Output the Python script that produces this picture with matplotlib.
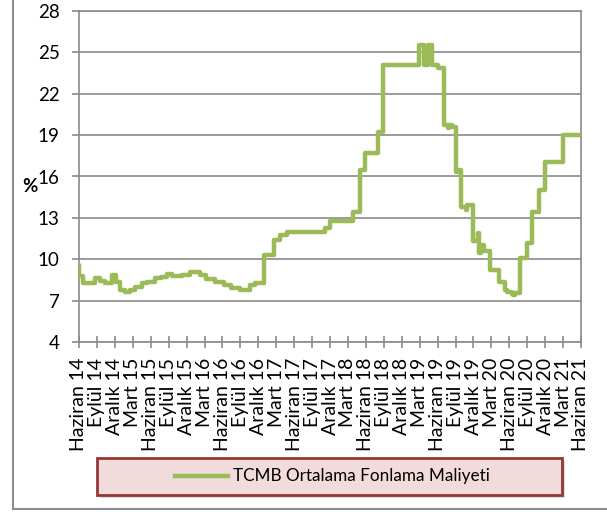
import matplotlib
matplotlib.use("Agg")
import matplotlib.pyplot as plt
from matplotlib.patches import Rectangle
from matplotlib.lines import Line2D

plt.rcParams['font.family'] = ['Lato', 'DejaVu Sans']

# ---- data (step changes, value holds until next date) ----
dates = [
    "2014-06-01", "2014-06-03", "2014-06-23", "2014-08-21", "2014-09-16", "2014-10-11",
    "2014-11-15", "2014-12-05", "2014-12-27", "2015-01-22", "2015-02-17", "2015-03-12",
    "2015-04-15", "2015-05-10", "2015-06-22", "2015-07-25", "2015-08-21", "2015-09-16",
    "2015-11-07", "2015-12-19", "2016-02-07", "2016-03-10", "2016-04-25", "2016-06-07",
    "2016-07-16", "2016-08-28", "2016-10-19", "2016-11-13", "2017-01-01", "2017-02-22",
    "2017-03-19", "2017-04-23", "2017-10-10", "2017-11-07", "2017-12-01", "2018-03-28",
    "2018-05-01", "2018-05-28", "2018-08-04", "2018-08-28", "2019-02-28", "2019-03-22",
    "2019-04-13", "2019-05-04", "2019-06-01", "2019-07-01", "2019-07-25", "2019-07-29",
    "2019-08-13", "2019-09-04", "2019-09-18", "2019-10-01", "2019-10-24", "2019-10-30",
    "2019-12-01", "2019-12-22", "2019-12-28", "2020-01-07", "2020-01-25", "2020-02-25",
    "2020-04-10", "2020-05-10", "2020-05-19", "2020-06-13", "2020-06-22", "2020-06-28",
    "2020-07-25", "2020-08-28", "2020-09-27", "2020-10-30", "2020-12-01", "2021-03-01",
    "2021-06-01",
]
values = [
    9.6, 8.78, 8.25, 8.62, 8.4, 8.25,
    8.86, 8.35, 7.77, 7.65, 7.77, 8.0,
    8.25, 8.35, 8.62, 8.7, 8.93, 8.78,
    8.86, 9.1, 8.86, 8.55, 8.35, 8.13,
    7.9, 7.77, 8.13, 8.3, 10.3, 11.4,
    11.76, 12.0, 11.95, 12.25, 12.75, 13.45,
    16.47, 17.73, 19.25, 24.05, 25.5, 24.05,
    25.5, 24.05, 23.9, 19.7, 19.5, 19.7,
    19.6, 16.35, 16.45, 13.8, 13.55, 13.9,
    11.3, 11.9, 10.45, 11.0, 10.6, 9.22,
    8.37, 7.77, 7.65, 7.5, 7.4, 7.55,
    10.06, 11.15, 13.4, 15.0, 17.05, 19.0,
    19.0,
]
series_name = "TCMB Ortalama Fonlama Maliyeti"
tick_labels = []
for yy in range(14, 22):
    for mname in ["Haziran", "Eylül", "Aralık", "Mart"]:
        tick_labels.append(f"{mname} {yy if mname != 'Mart' else yy + 1}")
tick_labels = tick_labels[:29]
y_ticks = list(range(4, 29, 3))
y_label = "%"


def month_offset(s):
    y, m, d = (int(p) for p in s.split("-"))
    return (y - 2014) * 12 + (m - 6) + (d - 1) / 30.0


xs = [month_offset(s) for s in dates]

W, H = 607, 512
fig = plt.figure(figsize=(W / 100, H / 100), dpi=100)


def fx(px):
    return px / W


def fy(py):
    return 1 - py / H


ax = fig.add_axes([fx(79), fy(342), fx(581) - fx(79), fy(11) - fy(342)])
grid_c = "#8a8a8a"
line_c = "#9BBB59"

ax.plot(xs, values, drawstyle="steps-post", color=line_c, lw=3.2,
        solid_joinstyle="round", solid_capstyle="round", zorder=3)

ax.set_xlim(0, 84)
ax.set_ylim(4, 28)
ax.set_yticks(y_ticks)
ax.set_yticklabels([str(v) for v in y_ticks], fontsize=13.5)
ax.set_xticks(list(range(0, 85, 3)))
ax.set_xticklabels(tick_labels, rotation=90, fontsize=14)
ax.yaxis.grid(True, color=grid_c, lw=1.2)
ax.set_axisbelow(True)
for sp in ax.spines.values():
    sp.set_color(grid_c)
    sp.set_linewidth(1.2)
ax.tick_params(axis="x", direction="inout", length=9, width=1.2, color=grid_c, pad=7)
ax.tick_params(axis="y", direction="out", length=5, width=1.2, color=grid_c, pad=9)

fig.text(fx(30), fy(186), y_label, fontsize=13.5, fontweight="bold", ha="center", va="center")

# outer chart frame
fig.add_artist(Line2D([fx(13), fx(13)], [fy(-5), fy(509)], color="#8c8c8c", lw=1.5))
fig.add_artist(Line2D([fx(13), 1.01], [fy(509), fy(509)], color="#8c8c8c", lw=1.5))

# legend box
lx0, ly0, lx1, ly1 = 97, 458, 562, 495
fig.add_artist(Rectangle((fx(lx0 + 3), fy(ly1 + 3)), fx(lx1) - fx(lx0), fy(ly0) - fy(ly1),
                         facecolor="#bbbbbb", edgecolor="none", alpha=0.5, zorder=1))
fig.add_artist(Rectangle((fx(lx0), fy(ly1)), fx(lx1) - fx(lx0), fy(ly0) - fy(ly1),
                         facecolor="#F2DCDB", edgecolor="#953735", lw=2, zorder=2))
fig.add_artist(Line2D([fx(175), fx(228)], [fy(476), fy(476)], color=line_c, lw=3.2, zorder=3))
fig.text(fx(233), fy(476), series_name, fontsize=12.3, ha="left", va="center", zorder=4)

fig.savefig("out.png", dpi=100)
